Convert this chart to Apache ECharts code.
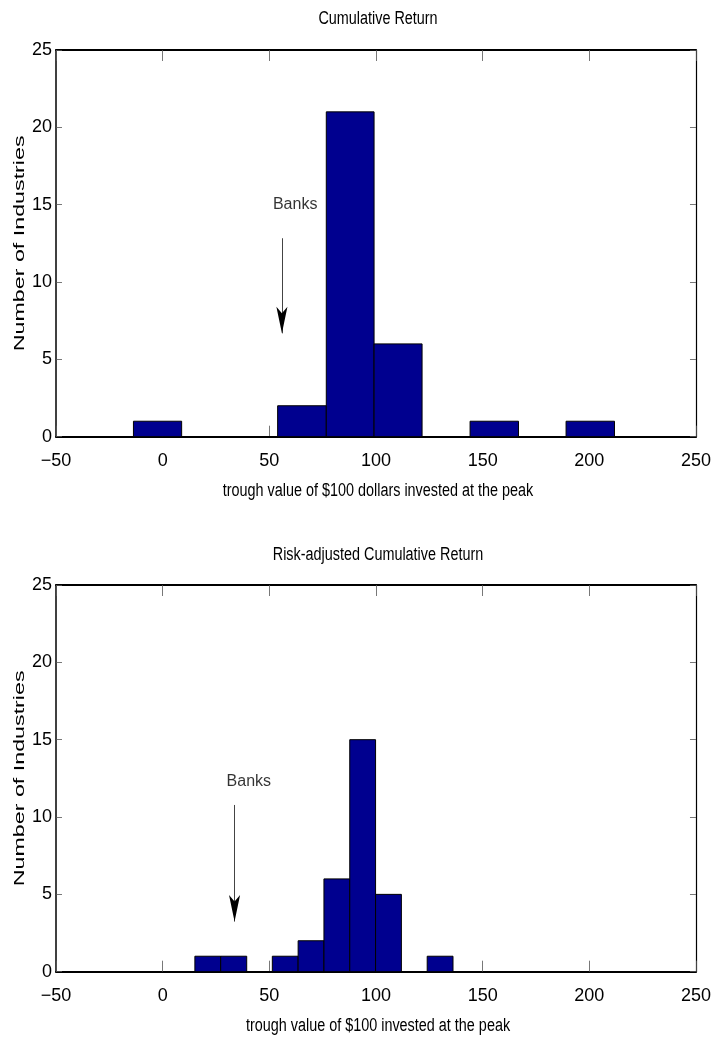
<!DOCTYPE html>
<html>
<head>
<meta charset="utf-8">
<script src="https://cdn.jsdelivr.net/npm/echarts@6/dist/echarts.min.js"></script>
<style>
  html, body { margin: 0; padding: 0; background: #fff; }
  #chart { width: 714px; height: 1044px; }
</style>
</head>
<body>
<div id="chart"></div>
<script>
// ---- data ----
const xTicks = [-50, 0, 50, 100, 150, 200, 250];
const yTicks = [0, 5, 10, 15, 20, 25];

const titles = ['Cumulative Return', 'Risk-adjusted Cumulative Return'];
const xLabels = ['trough value of $100 dollars invested at the peak', 'trough value of $100 invested at the peak'];
const yLabel = 'Number of Industries';

// histogram 1: bin edges and counts
const edgesTop = [-13.7, 8.9, 31.4, 53.9, 76.7, 99.1, 121.6, 144.1, 166.8, 189.1, 211.8];
const countsTop = [1, 0, 0, 2, 21, 6, 0, 1, 0, 1];

// histogram 2: bin edges and counts
const edgesBottom = [15.1, 27.2, 39.4, 51.4, 63.5, 75.6, 87.7, 99.8, 111.9, 124.0, 136.1];
const countsBottom = [1, 1, 0, 1, 2, 6, 15, 5, 0, 1];

// "Banks" annotations: label position and arrow (x, start y, arrow-head centre y)
const banksLabelTop = [62.1, 15.03];
const banksArrowTop = [55.9, 12.83, 6.68];
const banksLabelBottom = [40.4, 12.29];
const banksArrowBottom = [33.7, 10.78, 3.24];

// ---- build chart ----
const FONT = '"Liberation Sans", Arial, Helvetica, sans-serif';
const BAR_COLOR = '#00008F';

function histData(edges, counts) {
  return counts.map((c, i) => [edges[i], edges[i + 1], c]);
}

function renderHist(params, api) {
  const x0 = api.value(0), x1 = api.value(1), c = api.value(2);
  const p0 = api.coord([x0, c]);
  const p1 = api.coord([x1, 0]);
  return {
    type: 'rect',
    shape: { x: p0[0], y: p0[1], width: p1[0] - p0[0], height: p1[1] - p0[1] },
    style: { fill: BAR_COLOR, stroke: '#000', lineWidth: 1 }
  };
}

const fmtNum = v => String(v).replace('-', '\u2212');

const grids = [
  { left: 56, right: 14, top: 50, height: 386.7 },
  { left: 56, right: 14, top: 585, height: 386.7 }
];

const xAxes = [];
const yAxes = [];
grids.forEach((g, gi) => {
  xAxes.push({
    type: 'value', gridIndex: gi, position: 'bottom',
    min: xTicks[0], max: xTicks[xTicks.length - 1], interval: xTicks[1] - xTicks[0],
    axisLine: { show: true, onZero: false, lineStyle: { color: '#000', width: 2 } },
    axisTick: { show: true, inside: true, length: 11, lineStyle: { color: '#555', width: 0.8 } },
    axisLabel: { show: true, margin: 15, color: '#000', fontSize: 18, fontFamily: FONT, formatter: fmtNum },
    splitLine: { show: false }
  });
  xAxes.push({
    type: 'value', gridIndex: gi, position: 'top',
    min: xTicks[0], max: xTicks[xTicks.length - 1], interval: xTicks[1] - xTicks[0],
    axisLine: { show: true, onZero: false, lineStyle: { color: '#000', width: 2 } },
    axisTick: { show: true, inside: true, length: 11, lineStyle: { color: '#555', width: 0.8 } },
    axisLabel: { show: false },
    splitLine: { show: false }
  });
  yAxes.push({
    type: 'value', gridIndex: gi, position: 'left',
    min: yTicks[0], max: yTicks[yTicks.length - 1], interval: yTicks[1] - yTicks[0],
    axisLine: { show: true, onZero: false, lineStyle: { color: '#000', width: 1.5 } },
    axisTick: { show: true, inside: true, length: 6, lineStyle: { color: '#555', width: 0.8 } },
    axisLabel: { show: true, margin: 4, color: '#000', fontSize: 18, fontFamily: FONT },
    splitLine: { show: false }
  });
  yAxes.push({
    type: 'value', gridIndex: gi, position: 'right',
    min: yTicks[0], max: yTicks[yTicks.length - 1], interval: yTicks[1] - yTicks[0],
    axisLine: { show: true, onZero: false, lineStyle: { color: '#000', width: 1.2 } },
    axisTick: { show: true, inside: true, length: 6, lineStyle: { color: '#555', width: 0.8 } },
    axisLabel: { show: false },
    splitLine: { show: false }
  });
});

function banksSeries(gi, label, arrow) {
  return {
    type: 'scatter', xAxisIndex: gi * 2, yAxisIndex: gi * 2,
    data: [label], symbolSize: 0, silent: true,
    label: {
      show: true, position: 'inside', formatter: 'Banks',
      color: '#000', fontSize: 16, fontFamily: FONT
    },
    markLine: {
      silent: true, animation: false,
      symbol: ['none', 'none'],
      label: { show: false },
      lineStyle: { color: '#444', width: 1, type: 'solid' },
      data: [[{ coord: [arrow[0], arrow[1]] }, { coord: [arrow[0], arrow[2]] }]]
    },
    markPoint: {
      silent: true, animation: false,
      symbol: 'arrow', symbolSize: [8.3, 26.7], symbolRotate: 180,
      itemStyle: { color: '#000' },
      label: { show: false },
      data: [{ coord: [arrow[0], arrow[2]] }]
    }
  };
}

const series = [
  {
    type: 'custom', xAxisIndex: 0, yAxisIndex: 0,
    renderItem: renderHist, encode: { x: [0, 1], y: 2 },
    data: histData(edgesTop, countsTop)
  },
  {
    type: 'custom', xAxisIndex: 2, yAxisIndex: 2,
    renderItem: renderHist, encode: { x: [0, 1], y: 2 },
    data: histData(edgesBottom, countsBottom)
  },
  banksSeries(0, banksLabelTop, banksArrowTop),
  banksSeries(1, banksLabelBottom, banksArrowBottom)
];

function narrowText(text, x, y) {
  return { type: 'text', x: x, y: y, scaleX: 0.8, silent: true,
    style: { text: text, fill: '#000', font: '18px ' + FONT, textAlign: 'center', textVerticalAlign: 'middle' } };
}
function yLabelText(y) {
  return { type: 'text', x: 20, y: y, rotation: Math.PI / 2, scaleX: 1.55, silent: true,
    style: { text: yLabel, fill: '#000', font: '15px ' + FONT, textAlign: 'center', textVerticalAlign: 'middle' } };
}

const chart = echarts.init(document.getElementById('chart'), null, { renderer: 'canvas' });
chart.setOption({
  animation: false,
  backgroundColor: '#fff',
  grid: grids,
  xAxis: xAxes,
  yAxis: yAxes,
  graphic: [
    narrowText(titles[0], 378, 19),
    narrowText(titles[1], 378, 555),
    narrowText(xLabels[0], 378, 491),
    narrowText(xLabels[1], 378, 1026),
    yLabelText(50 + 386.7 / 2),
    yLabelText(585 + 386.7 / 2)
  ],
  series: series
});
</script>
</body>
</html>
